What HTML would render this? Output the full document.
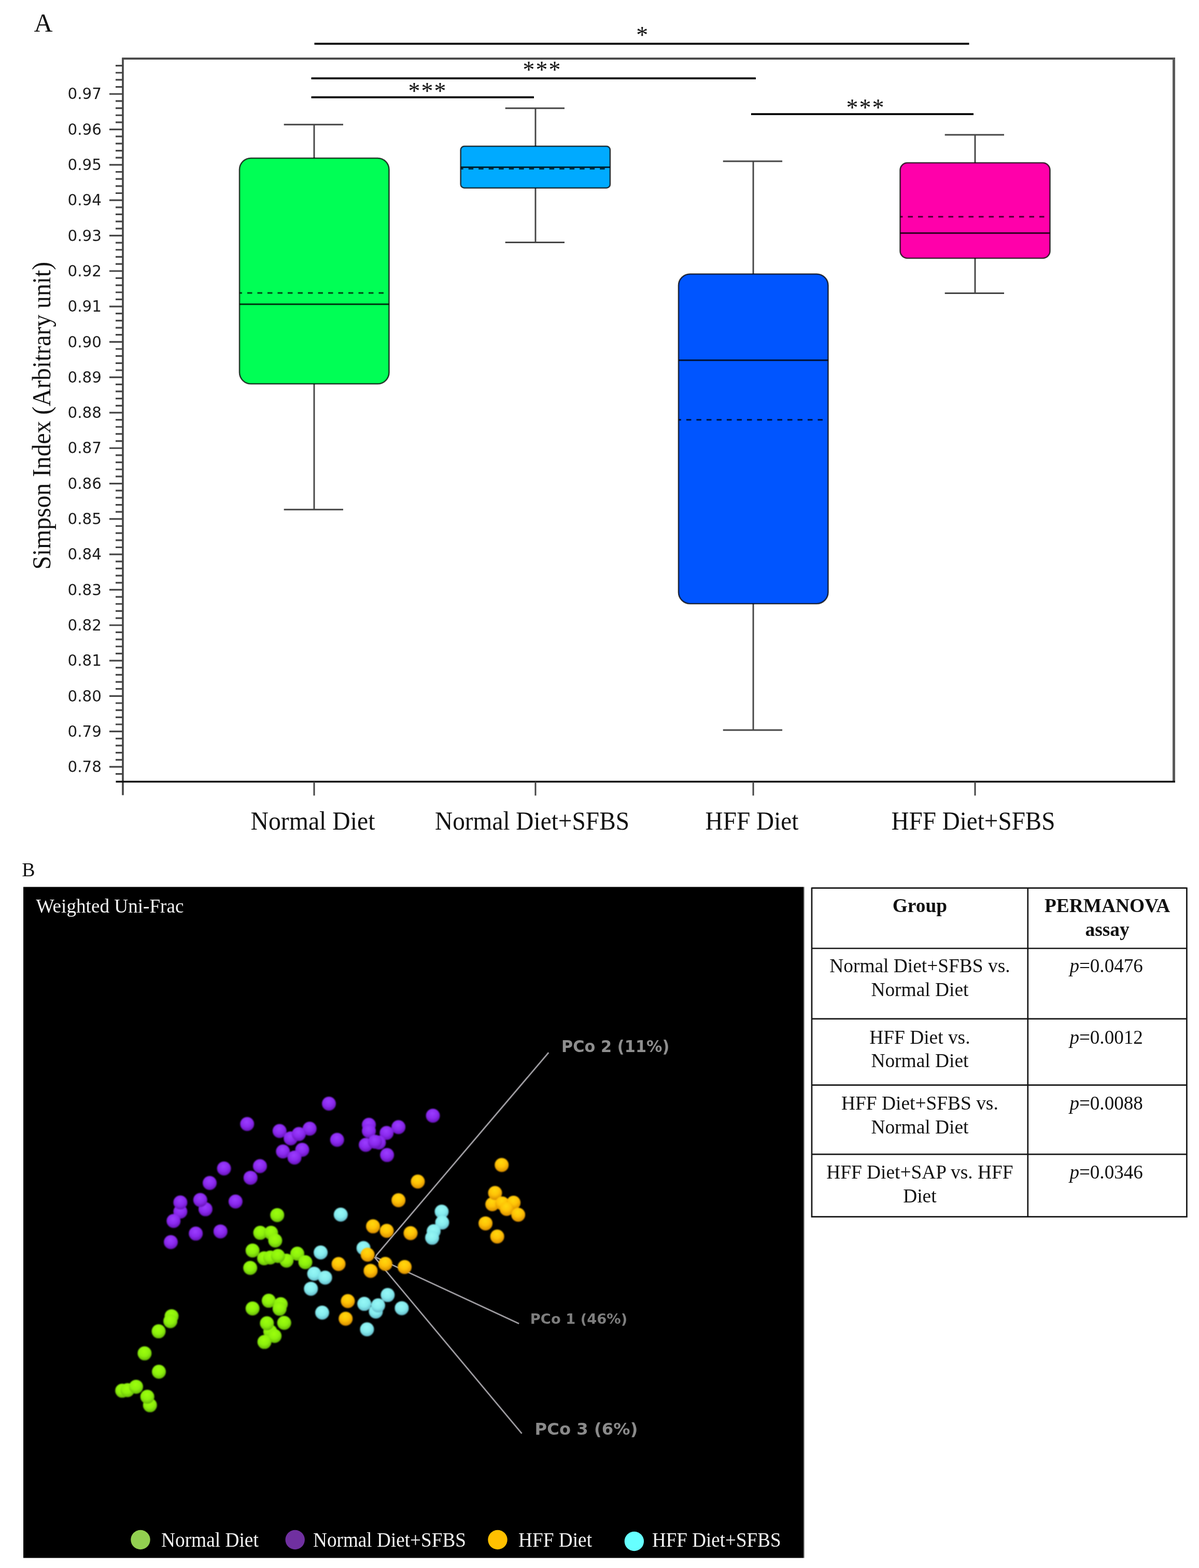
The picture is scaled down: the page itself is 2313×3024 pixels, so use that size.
<!DOCTYPE html>
<html lang="en">
<head>
<meta charset="utf-8">
<title>Figure: Simpson Index and Weighted Uni-Frac PCoA</title>
<style>
html,body{margin:0;padding:0;background:#fff;}
body{width:2313px;height:3024px;overflow:hidden;}
svg{display:block;}
.sf{font-family:"Liberation Serif", "DejaVu Serif", serif;}
.ss{font-family:"DejaVu Sans", "Liberation Sans", sans-serif;}
text{white-space:pre;}
</style>
</head>
<body>
<svg width="2313" height="3024" viewBox="0 0 2313 3024">
<defs><filter id="soft" x="0" y="0" width="100%" height="100%" filterUnits="userSpaceOnUse" color-interpolation-filters="sRGB"><feGaussianBlur stdDeviation="0.5"/></filter><filter id="soft2" x="0" y="1700" width="1600" height="1320" filterUnits="userSpaceOnUse" color-interpolation-filters="sRGB"><feGaussianBlur stdDeviation="0.8"/></filter></defs>
<g filter="url(#soft)">
<rect x="-10" y="-10" width="2333" height="3044" fill="#fff"/>
<g id="panelA">
<text class="sf" x="65.5" y="60.5" font-size="50" fill="#111" >A</text>
<path d="M237,1533.5 V113.0" fill="none" stroke="#454545" stroke-width="3.6"/>
<path d="M235.2,113.0 H2267" fill="none" stroke="#4c4c4c" stroke-width="4.2"/>
<path d="M2264.5,113.0 V1507.5" fill="none" stroke="#5a5a5a" stroke-width="5"/>
<line x1="223.5" y1="1507.5" x2="2267" y2="1507.5" stroke="#111" stroke-width="3.6"/>
<path d="M223,126.61H237M223,140.27H237M223,153.93H237M223,167.59H237M211,181.25H237M223,194.91H237M223,208.57H237M223,222.23H237M223,235.89H237M211,249.55H237M223,263.21H237M223,276.87H237M223,290.53H237M223,304.19H237M211,317.85H237M223,331.51H237M223,345.17H237M223,358.83H237M223,372.49H237M211,386.15H237M223,399.81H237M223,413.47H237M223,427.13H237M223,440.79H237M211,454.45H237M223,468.11H237M223,481.77H237M223,495.43H237M223,509.09H237M211,522.75H237M223,536.41H237M223,550.07H237M223,563.73H237M223,577.39H237M211,591.05H237M223,604.71H237M223,618.37H237M223,632.03H237M223,645.69H237M211,659.35H237M223,673.01H237M223,686.67H237M223,700.33H237M223,713.99H237M211,727.65H237M223,741.31H237M223,754.97H237M223,768.63H237M223,782.29H237M211,795.95H237M223,809.61H237M223,823.27H237M223,836.93H237M223,850.59H237M211,864.25H237M223,877.91H237M223,891.57H237M223,905.23H237M223,918.89H237M211,932.55H237M223,946.21H237M223,959.87H237M223,973.53H237M223,987.19H237M211,1000.85H237M223,1014.51H237M223,1028.17H237M223,1041.83H237M223,1055.49H237M211,1069.15H237M223,1082.81H237M223,1096.47H237M223,1110.13H237M223,1123.79H237M211,1137.45H237M223,1151.11H237M223,1164.77H237M223,1178.43H237M223,1192.09H237M211,1205.75H237M223,1219.41H237M223,1233.07H237M223,1246.73H237M223,1260.39H237M211,1274.05H237M223,1287.71H237M223,1301.37H237M223,1315.03H237M223,1328.69H237M211,1342.35H237M223,1356.01H237M223,1369.67H237M223,1383.33H237M223,1396.99H237M211,1410.65H237M223,1424.31H237M223,1437.97H237M223,1451.63H237M223,1465.29H237M211,1478.95H237M223,1492.61H237" stroke="#454545" stroke-width="3.2" fill="none"/>
<text class="ss" x="196" y="191.4" font-size="29.4" fill="#1c1c1c" text-anchor="end" >0.97</text>
<text class="ss" x="196" y="259.8" font-size="29.4" fill="#1c1c1c" text-anchor="end" >0.96</text>
<text class="ss" x="196" y="328.1" font-size="29.4" fill="#1c1c1c" text-anchor="end" >0.95</text>
<text class="ss" x="196" y="396.4" font-size="29.4" fill="#1c1c1c" text-anchor="end" >0.94</text>
<text class="ss" x="196" y="464.7" font-size="29.4" fill="#1c1c1c" text-anchor="end" >0.93</text>
<text class="ss" x="196" y="533.0" font-size="29.4" fill="#1c1c1c" text-anchor="end" >0.92</text>
<text class="ss" x="196" y="601.3" font-size="29.4" fill="#1c1c1c" text-anchor="end" >0.91</text>
<text class="ss" x="196" y="669.6" font-size="29.4" fill="#1c1c1c" text-anchor="end" >0.90</text>
<text class="ss" x="196" y="737.8" font-size="29.4" fill="#1c1c1c" text-anchor="end" >0.89</text>
<text class="ss" x="196" y="806.1" font-size="29.4" fill="#1c1c1c" text-anchor="end" >0.88</text>
<text class="ss" x="196" y="874.4" font-size="29.4" fill="#1c1c1c" text-anchor="end" >0.87</text>
<text class="ss" x="196" y="942.7" font-size="29.4" fill="#1c1c1c" text-anchor="end" >0.86</text>
<text class="ss" x="196" y="1011.0" font-size="29.4" fill="#1c1c1c" text-anchor="end" >0.85</text>
<text class="ss" x="196" y="1079.4" font-size="29.4" fill="#1c1c1c" text-anchor="end" >0.84</text>
<text class="ss" x="196" y="1147.7" font-size="29.4" fill="#1c1c1c" text-anchor="end" >0.83</text>
<text class="ss" x="196" y="1216.0" font-size="29.4" fill="#1c1c1c" text-anchor="end" >0.82</text>
<text class="ss" x="196" y="1284.3" font-size="29.4" fill="#1c1c1c" text-anchor="end" >0.81</text>
<text class="ss" x="196" y="1352.6" font-size="29.4" fill="#1c1c1c" text-anchor="end" >0.80</text>
<text class="ss" x="196" y="1420.8" font-size="29.4" fill="#1c1c1c" text-anchor="end" >0.79</text>
<text class="ss" x="196" y="1489.1" font-size="29.4" fill="#1c1c1c" text-anchor="end" >0.78</text>
<line x1="606" y1="1507.5" x2="606" y2="1534.3" stroke="#454545" stroke-width="3"/>
<line x1="1033" y1="1507.5" x2="1033" y2="1534.3" stroke="#454545" stroke-width="3"/>
<line x1="1453.1" y1="1507.5" x2="1453.1" y2="1534.3" stroke="#454545" stroke-width="3"/>
<line x1="1881" y1="1507.5" x2="1881" y2="1534.3" stroke="#454545" stroke-width="3"/>
<text class="sf" x="483.5" y="1600" font-size="51" fill="#111" textLength="240" lengthAdjust="spacingAndGlyphs" >Normal Diet</text>
<text class="sf" x="839" y="1600" font-size="51" fill="#111" textLength="375" lengthAdjust="spacingAndGlyphs" >Normal Diet+SFBS</text>
<text class="sf" x="1360.5" y="1600" font-size="51" fill="#111" textLength="180" lengthAdjust="spacingAndGlyphs" >HFF Diet</text>
<text class="sf" x="1719.5" y="1600" font-size="51" fill="#111" textLength="316" lengthAdjust="spacingAndGlyphs" >HFF Diet+SFBS</text>
<text class="sf" transform="translate(97.3,1098.5) rotate(-90)" font-size="50.3" fill="#111" textLength="593.5" lengthAdjust="spacingAndGlyphs">Simpson Index (Arbitrary unit)</text>
<path d="M606,240.3V305M606,740.3V982.8M547.7,240.3H662M547.7,982.8H662" stroke="#454545" stroke-width="2.9" fill="none"/>
<rect x="462" y="305" width="288.5" height="435.29999999999995" rx="22" ry="22" fill="#00ff55" stroke="#000" stroke-opacity="0.75" stroke-width="2.6"/>
<line x1="462" y1="586.75" x2="750.5" y2="586.75" stroke="#000" stroke-opacity="0.8" stroke-width="3"/>
<line x1="462" y1="565" x2="748.5" y2="565" stroke="#000" stroke-opacity="0.72" stroke-width="3.2" stroke-dasharray="9.5 10" stroke-dashoffset="4.5"/>
<path d="M1033,208.7V282M1033,362.5V467.5M974.7,208.7H1089M974.7,467.5H1089" stroke="#454545" stroke-width="2.9" fill="none"/>
<rect x="888.7" y="282" width="288.29999999999995" height="80.5" rx="7" ry="7" fill="#00aaff" stroke="#000" stroke-opacity="0.75" stroke-width="2.6"/>
<line x1="888.7" y1="322.4" x2="1177" y2="322.4" stroke="#000" stroke-opacity="0.8" stroke-width="3"/>
<line x1="888.7" y1="325.4" x2="1175" y2="325.4" stroke="#000" stroke-opacity="0.72" stroke-width="3.2" stroke-dasharray="9.5 10" stroke-dashoffset="4.5"/>
<path d="M1453.1,311V528.5M1453.1,1164.2V1408M1394.8,311H1509.1M1394.8,1408H1509.1" stroke="#454545" stroke-width="2.9" fill="none"/>
<rect x="1309" y="528.5" width="288.5" height="635.7" rx="22" ry="22" fill="#0055ff" stroke="#000" stroke-opacity="0.75" stroke-width="2.6"/>
<line x1="1309" y1="694.7" x2="1597.5" y2="694.7" stroke="#000" stroke-opacity="0.8" stroke-width="3"/>
<line x1="1309" y1="809.6" x2="1595.5" y2="809.6" stroke="#000" stroke-opacity="0.72" stroke-width="3.2" stroke-dasharray="9.5 10" stroke-dashoffset="4.5"/>
<path d="M1881,260V314M1881,498V565.5M1822.7,260H1937M1822.7,565.5H1937" stroke="#454545" stroke-width="2.9" fill="none"/>
<rect x="1736.5" y="314" width="289.0" height="184" rx="14" ry="14" fill="#ff00aa" stroke="#000" stroke-opacity="0.75" stroke-width="2.6"/>
<line x1="1736.5" y1="449.5" x2="2025.5" y2="449.5" stroke="#000" stroke-opacity="0.8" stroke-width="3"/>
<line x1="1736.5" y1="418" x2="2023.5" y2="418" stroke="#000" stroke-opacity="0.72" stroke-width="3.2" stroke-dasharray="9.5 10" stroke-dashoffset="4.5"/>
<line x1="606.5" y1="84.3" x2="1869.5" y2="84.3" stroke="#000" stroke-width="3.7"/>
<text class="sf" x="1239.7" y="83.4" font-size="46" fill="#111" text-anchor="middle" letter-spacing="2">*</text>
<line x1="600.5" y1="151.2" x2="1458" y2="151.2" stroke="#000" stroke-width="3.7"/>
<text class="sf" x="1046" y="150.4" font-size="46" fill="#111" text-anchor="middle" letter-spacing="2">***</text>
<line x1="600.5" y1="187.7" x2="1030" y2="187.7" stroke="#000" stroke-width="3.7"/>
<text class="sf" x="825" y="191" font-size="46" fill="#111" text-anchor="middle" letter-spacing="2">***</text>
<line x1="1449" y1="220.2" x2="1878" y2="220.2" stroke="#000" stroke-width="3.7"/>
<text class="sf" x="1670" y="223.3" font-size="46" fill="#111" text-anchor="middle" letter-spacing="2">***</text>
</g>
<g id="panelB">
<text class="sf" x="42.3" y="1690" font-size="38" fill="#111" >B</text>
<rect x="45" y="1710.5" width="1505" height="1294.1" fill="#000"/>
<rect x="1550" y="1710.5" width="1.9" height="1294.1" fill="#858585"/>
<text class="sf" x="69.5" y="1760.3" font-size="38.6" fill="#f4f4f4" textLength="285" lengthAdjust="spacingAndGlyphs" >Weighted Uni-Frac</text>
<defs>
<radialGradient id="gp" cx="0.46" cy="0.34" r="0.68"><stop offset="0" stop-color="#9b3dff"/><stop offset="0.55" stop-color="#8a29ee"/><stop offset="1" stop-color="#6412b4"/></radialGradient>
<radialGradient id="gg" cx="0.46" cy="0.34" r="0.68"><stop offset="0" stop-color="#9cff0c"/><stop offset="0.55" stop-color="#8cf00c"/><stop offset="1" stop-color="#64b408"/></radialGradient>
<radialGradient id="gy" cx="0.46" cy="0.3" r="0.7"><stop offset="0" stop-color="#ffd80c"/><stop offset="0.5" stop-color="#ffc206"/><stop offset="1" stop-color="#d88c00"/></radialGradient>
<radialGradient id="gc" cx="0.46" cy="0.34" r="0.68"><stop offset="0" stop-color="#96f8f6"/><stop offset="0.55" stop-color="#86ecee"/><stop offset="1" stop-color="#62b8c8"/></radialGradient>
</defs>
<text class="ss" x="1083" y="2029.3" font-size="31.4" fill="#8e8e8e" textLength="208.5" lengthAdjust="spacingAndGlyphs" font-weight="bold" >PCo 2 (11%)</text>
<text class="ss" x="1022.8" y="2553" font-size="27.2" fill="#7e7e7e" textLength="187.5" lengthAdjust="spacingAndGlyphs" font-weight="bold" >PCo 1 (46%)</text>
<text class="ss" x="1031.5" y="2767" font-size="32" fill="#8a8a8a" textLength="199" lengthAdjust="spacingAndGlyphs" font-weight="bold" >PCo 3 (6%)</text>
<path d="M1058.3,2030 L726.2,2420.5 L724.5,2424.5 L1001.2,2552.7 M722.5,2424.5 L1006.6,2764.6" fill="none" stroke="#9c9a9f" stroke-width="2.8" stroke-linejoin="round"/>
<g filter="url(#soft2)">
<circle cx="634.5" cy="2128.5" r="13.5" fill="url(#gp)"/>
<circle cx="476.8" cy="2167.8" r="13.5" fill="url(#gp)"/>
<circle cx="539.3" cy="2181.2" r="13.5" fill="url(#gp)"/>
<circle cx="597.3" cy="2176.7" r="13.5" fill="url(#gp)"/>
<circle cx="560.7" cy="2195.5" r="13.5" fill="url(#gp)"/>
<circle cx="576.5" cy="2187.1" r="13.5" fill="url(#gp)"/>
<circle cx="650.3" cy="2198.2" r="13.5" fill="url(#gp)"/>
<circle cx="545.8" cy="2220.8" r="13.5" fill="url(#gp)"/>
<circle cx="583" cy="2217.5" r="13.5" fill="url(#gp)"/>
<circle cx="568.1" cy="2232.4" r="13.5" fill="url(#gp)"/>
<circle cx="432.1" cy="2253.5" r="13.5" fill="url(#gp)"/>
<circle cx="501.5" cy="2249" r="13.5" fill="url(#gp)"/>
<circle cx="483.3" cy="2271.4" r="13.5" fill="url(#gp)"/>
<circle cx="404.5" cy="2281.5" r="13.5" fill="url(#gp)"/>
<circle cx="347.9" cy="2336.8" r="13.5" fill="url(#gp)"/>
<circle cx="347.9" cy="2319" r="13.5" fill="url(#gp)"/>
<circle cx="396.4" cy="2332.1" r="13.5" fill="url(#gp)"/>
<circle cx="386.3" cy="2314.2" r="13.5" fill="url(#gp)"/>
<circle cx="454.4" cy="2317.2" r="13.5" fill="url(#gp)"/>
<circle cx="334.8" cy="2354.7" r="13.5" fill="url(#gp)"/>
<circle cx="377.7" cy="2379.1" r="13.5" fill="url(#gp)"/>
<circle cx="425.3" cy="2374.9" r="13.5" fill="url(#gp)"/>
<circle cx="329.5" cy="2395.5" r="13.5" fill="url(#gp)"/>
<circle cx="835.1" cy="2151.7" r="13.5" fill="url(#gp)"/>
<circle cx="711.6" cy="2169.3" r="13.5" fill="url(#gp)"/>
<circle cx="711.6" cy="2181.2" r="13.5" fill="url(#gp)"/>
<circle cx="768.7" cy="2173.7" r="13.5" fill="url(#gp)"/>
<circle cx="745.8" cy="2185" r="13.5" fill="url(#gp)"/>
<circle cx="705.6" cy="2208" r="13.5" fill="url(#gp)"/>
<circle cx="731" cy="2203.5" r="13.5" fill="url(#gp)"/>
<circle cx="723.5" cy="2202" r="13.5" fill="url(#gp)"/>
<circle cx="746.7" cy="2227.6" r="13.5" fill="url(#gp)"/>
<circle cx="534.8" cy="2343.4" r="13.5" fill="url(#gg)"/>
<circle cx="502" cy="2377.6" r="13.5" fill="url(#gg)"/>
<circle cx="522.9" cy="2377.6" r="13.5" fill="url(#gg)"/>
<circle cx="530.9" cy="2392.5" r="13.5" fill="url(#gg)"/>
<circle cx="487.2" cy="2411.8" r="13.5" fill="url(#gg)"/>
<circle cx="573.5" cy="2417.8" r="13.5" fill="url(#gg)"/>
<circle cx="552.7" cy="2431.2" r="13.5" fill="url(#gg)"/>
<circle cx="509.5" cy="2426.7" r="13.5" fill="url(#gg)"/>
<circle cx="521.4" cy="2425.2" r="13.5" fill="url(#gg)"/>
<circle cx="536.3" cy="2422.2" r="13.5" fill="url(#gg)"/>
<circle cx="589" cy="2434.2" r="13.5" fill="url(#gg)"/>
<circle cx="482.7" cy="2445.2" r="13.5" fill="url(#gg)"/>
<circle cx="331" cy="2538.4" r="13.5" fill="url(#gg)"/>
<circle cx="328.6" cy="2547.9" r="13.5" fill="url(#gg)"/>
<circle cx="306" cy="2567.6" r="13.5" fill="url(#gg)"/>
<circle cx="278.9" cy="2610.1" r="13.5" fill="url(#gg)"/>
<circle cx="306.5" cy="2645.5" r="13.5" fill="url(#gg)"/>
<circle cx="235.7" cy="2682.1" r="13.5" fill="url(#gg)"/>
<circle cx="246" cy="2681" r="13.5" fill="url(#gg)"/>
<circle cx="262.5" cy="2674.4" r="13.5" fill="url(#gg)"/>
<circle cx="289.3" cy="2710.1" r="13.5" fill="url(#gg)"/>
<circle cx="284.2" cy="2693.7" r="13.5" fill="url(#gg)"/>
<circle cx="487.2" cy="2523.5" r="13.5" fill="url(#gg)"/>
<circle cx="518.4" cy="2508.6" r="13.5" fill="url(#gg)"/>
<circle cx="541.6" cy="2515.2" r="13.5" fill="url(#gg)"/>
<circle cx="539.3" cy="2524.1" r="13.5" fill="url(#gg)"/>
<circle cx="548.2" cy="2551.2" r="13.5" fill="url(#gg)"/>
<circle cx="521.4" cy="2568.1" r="13.5" fill="url(#gg)"/>
<circle cx="514.9" cy="2552.1" r="13.5" fill="url(#gg)"/>
<circle cx="529.7" cy="2576.5" r="13.5" fill="url(#gg)"/>
<circle cx="510.1" cy="2588.1" r="13.5" fill="url(#gg)"/>
<circle cx="657.3" cy="2342.5" r="13.5" fill="url(#gc)"/>
<circle cx="618.6" cy="2415.5" r="13.5" fill="url(#gc)"/>
<circle cx="606.1" cy="2456.5" r="13.5" fill="url(#gc)"/>
<circle cx="627.2" cy="2464" r="13.5" fill="url(#gc)"/>
<circle cx="599.8" cy="2485.4" r="13.5" fill="url(#gc)"/>
<circle cx="621.5" cy="2531.5" r="13.5" fill="url(#gc)"/>
<circle cx="852" cy="2336.8" r="13.5" fill="url(#gc)"/>
<circle cx="853" cy="2357.7" r="13.5" fill="url(#gc)"/>
<circle cx="836.6" cy="2374.6" r="13.5" fill="url(#gc)"/>
<circle cx="833.6" cy="2387.1" r="13.5" fill="url(#gc)"/>
<circle cx="701.2" cy="2407" r="13.5" fill="url(#gc)"/>
<circle cx="747.9" cy="2497.6" r="13.5" fill="url(#gc)"/>
<circle cx="702.7" cy="2514.6" r="13.5" fill="url(#gc)"/>
<circle cx="725" cy="2529.5" r="13.5" fill="url(#gc)"/>
<circle cx="729.5" cy="2517.6" r="13.5" fill="url(#gc)"/>
<circle cx="775" cy="2522.9" r="13.5" fill="url(#gc)"/>
<circle cx="708" cy="2563.7" r="13.5" fill="url(#gc)"/>
<circle cx="967.8" cy="2246.7" r="13.5" fill="url(#gy)"/>
<circle cx="806" cy="2278.8" r="13.5" fill="url(#gy)"/>
<circle cx="768.7" cy="2314.8" r="13.5" fill="url(#gy)"/>
<circle cx="949.7" cy="2322.5" r="13.5" fill="url(#gy)"/>
<circle cx="955" cy="2300.8" r="13.5" fill="url(#gy)"/>
<circle cx="969" cy="2321" r="13.5" fill="url(#gy)"/>
<circle cx="990.7" cy="2319.6" r="13.5" fill="url(#gy)"/>
<circle cx="977.4" cy="2331.5" r="13.5" fill="url(#gy)"/>
<circle cx="999.7" cy="2342.8" r="13.5" fill="url(#gy)"/>
<circle cx="936.6" cy="2359.4" r="13.5" fill="url(#gy)"/>
<circle cx="959.2" cy="2384.7" r="13.5" fill="url(#gy)"/>
<circle cx="719.6" cy="2365.1" r="13.5" fill="url(#gy)"/>
<circle cx="746.1" cy="2373.7" r="13.5" fill="url(#gy)"/>
<circle cx="792" cy="2378.2" r="13.5" fill="url(#gy)"/>
<circle cx="709.2" cy="2419.7" r="13.5" fill="url(#gy)"/>
<circle cx="653.1" cy="2437.8" r="13.5" fill="url(#gy)"/>
<circle cx="743.4" cy="2437.5" r="13.5" fill="url(#gy)"/>
<circle cx="780.6" cy="2443.5" r="13.5" fill="url(#gy)"/>
<circle cx="714.9" cy="2450.9" r="13.5" fill="url(#gy)"/>
<circle cx="671" cy="2509.2" r="13.5" fill="url(#gy)"/>
<circle cx="666.8" cy="2543.2" r="13.5" fill="url(#gy)"/>
</g>
<circle cx="271" cy="2969.5" r="18.7" fill="#92d050"/>
<text class="sf" x="311" y="2983" font-size="39.5" fill="#f4f4f4" textLength="187.8" lengthAdjust="spacingAndGlyphs" >Normal Diet</text>
<circle cx="569.2" cy="2969.5" r="18.7" fill="#7030a0"/>
<text class="sf" x="604" y="2983" font-size="39.5" fill="#f4f4f4" textLength="295" lengthAdjust="spacingAndGlyphs" >Normal Diet+SFBS</text>
<circle cx="960" cy="2969.5" r="18.7" fill="#ffc000"/>
<text class="sf" x="1000" y="2983" font-size="39.5" fill="#f4f4f4" textLength="142" lengthAdjust="spacingAndGlyphs" >HFF Diet</text>
<circle cx="1223.4" cy="2972.5" r="18.7" fill="#66ffff"/>
<text class="sf" x="1258" y="2983" font-size="39.5" fill="#f4f4f4" textLength="248.5" lengthAdjust="spacingAndGlyphs" >HFF Diet+SFBS</text>
<path d="M1566,1712.7H2289.4M1566,1829H2289.4M1566,1964.8H2289.4M1566,2092.7H2289.4M1566,2226.2H2289.4M1566,2346.6H2289.4M1566,1711.4V2347.9M1982.8,1712.7V2346.6M2289.4,1711.4V2347.9" stroke="#151515" stroke-width="2.7" fill="none"/>
<text class="sf" x="1774.4" y="1759" font-size="37.4" fill="#111" text-anchor="middle" font-weight="bold" >Group</text>
<text class="sf" x="2136.1" y="1759" font-size="37.4" fill="#111" text-anchor="middle" font-weight="bold" >PERMANOVA</text>
<text class="sf" x="2136.1" y="1804.5" font-size="37.4" fill="#111" text-anchor="middle" font-weight="bold" >assay</text>
<text class="sf" x="1774.4" y="1875.0" font-size="37.4" fill="#111" text-anchor="middle" >Normal Diet+SFBS vs.</text>
<text class="sf" x="1774.4" y="1920.8" font-size="37.4" fill="#111" text-anchor="middle" >Normal Diet</text>
<text class="sf" x="2134.1" y="1875" font-size="37.1" fill="#111" text-anchor="middle" ><tspan font-style="italic">p</tspan>=0.0476</text>
<text class="sf" x="1774.4" y="2012.5" font-size="37.4" fill="#111" text-anchor="middle" >HFF Diet vs.</text>
<text class="sf" x="1774.4" y="2058.3" font-size="37.4" fill="#111" text-anchor="middle" >Normal Diet</text>
<text class="sf" x="2134.1" y="2012.5" font-size="37.1" fill="#111" text-anchor="middle" ><tspan font-style="italic">p</tspan>=0.0012</text>
<text class="sf" x="1774.4" y="2140.0" font-size="37.4" fill="#111" text-anchor="middle" >HFF Diet+SFBS vs.</text>
<text class="sf" x="1774.4" y="2185.8" font-size="37.4" fill="#111" text-anchor="middle" >Normal Diet</text>
<text class="sf" x="2134.1" y="2140" font-size="37.1" fill="#111" text-anchor="middle" ><tspan font-style="italic">p</tspan>=0.0088</text>
<text class="sf" x="1774.4" y="2273.0" font-size="37.4" fill="#111" text-anchor="middle" >HFF Diet+SAP vs. HFF</text>
<text class="sf" x="1774.4" y="2318.8" font-size="37.4" fill="#111" text-anchor="middle" >Diet</text>
<text class="sf" x="2134.1" y="2273" font-size="37.1" fill="#111" text-anchor="middle" ><tspan font-style="italic">p</tspan>=0.0346</text>
</g>
</g>
</svg>
</body>
</html>
